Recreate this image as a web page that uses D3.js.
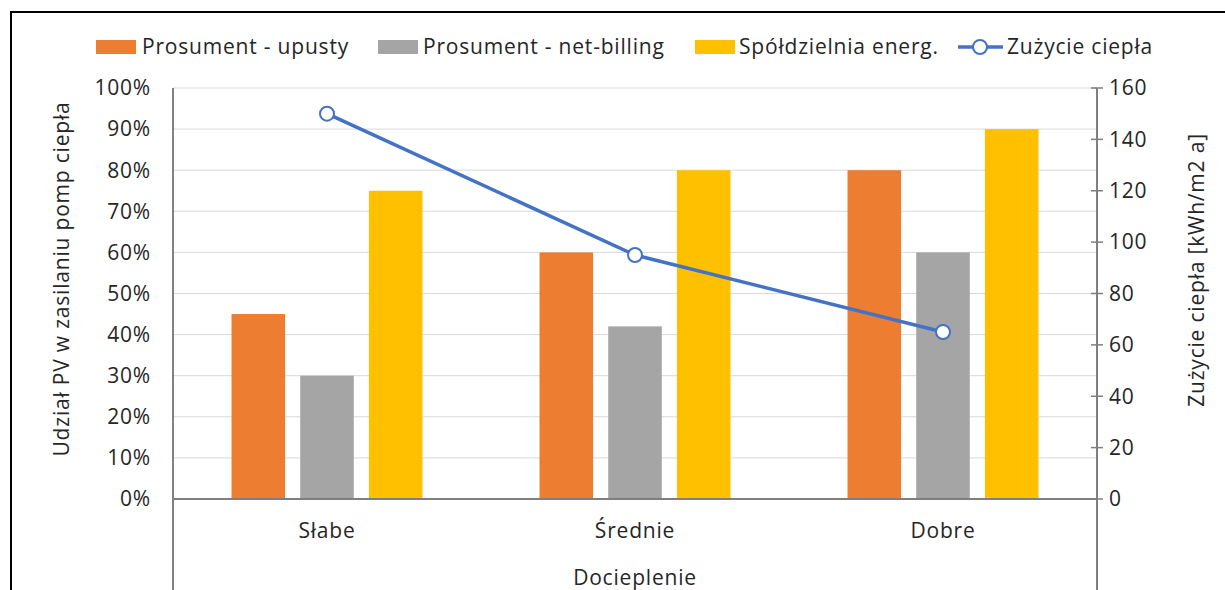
<!DOCTYPE html>
<html>
<head>
<meta charset="utf-8">
<script src="https://cdn.jsdelivr.net/npm/d3@7"></script>
<style>
  body { margin: 0; background: #fff; }
  svg { font-family: 'Open Sans', sans-serif; }
  svg text { font-size: 21px; letter-spacing: 0.8px; fill: #262626; }
</style>
</head>
<body>
<svg width="1225" height="590"></svg>
<script>
// Data
let categories = ['Słabe', 'Średnie', 'Dobre'];
let seriesNames = ['Prosument - upusty', 'Prosument - net-billing', 'Spółdzielnia energ.'];
let upusty = [0.45, 0.60, 0.80];
let netBilling = [0.30, 0.42, 0.60];
let spoldzielnia = [0.75, 0.80, 0.90];
let heatUse = [150, 95, 65];
let lineName = 'Zużycie ciepła';
let leftTicks = [0, 0.1, 0.2, 0.3, 0.4, 0.5, 0.6, 0.7, 0.8, 0.9, 1];
let rightTicks = [0, 20, 40, 60, 80, 100, 120, 140, 160];
let colors = ['#ED7D31', '#A5A5A5', '#FFC000'];
let lineColor = '#4472C4';

let svg = d3.select('svg');

// Plot area
let plotLeft = 173, plotRight = 1097, plotTop = 88, plotBottom = 499;

// Outer frame (extends past the window on right / bottom)
svg.append('rect')
    .attr('x', 11).attr('y', 12)
    .attr('width', 1300).attr('height', 700)
    .attr('fill', 'none')
    .attr('stroke', '#000')
    .attr('stroke-width', 2);

let x0 = d3.scaleBand().domain(categories).range([plotLeft, plotRight]);
let x1 = d3.scaleBand().domain(d3.range(3)).range([0, 191]).paddingInner(0.22);
let yL = d3.scaleLinear().domain([0, 1]).range([plotBottom, plotTop]);
let yR = d3.scaleLinear().domain([0, 160]).range([plotBottom, plotTop]);
let cx = (d, i) => x0(categories[i]) + x0.bandwidth() / 2;

// Gridlines
svg.append('g')
  .selectAll('line')
  .data(leftTicks.slice(1))
  .enter().append('line')
    .attr('x1', plotLeft).attr('x2', plotRight)
    .attr('y1', d => yL(d)).attr('y2', d => yL(d))
    .attr('stroke', '#d9d9d9')
    .attr('stroke-width', 1);

// Bars
let series = [upusty, netBilling, spoldzielnia];
series.forEach((vals, s) => {
  svg.append('g')
    .selectAll('rect')
    .data(vals)
    .enter().append('rect')
      .attr('x', (d, i) => cx(d, i) - 95.5 + x1(s))
      .attr('y', d => yL(d))
      .attr('width', x1.bandwidth())
      .attr('height', d => plotBottom - yL(d))
      .attr('fill', colors[s]);
});

// Axis lines
svg.append('line')
    .attr('x1', plotLeft).attr('x2', plotLeft).attr('y1', plotTop).attr('y2', 590)
    .attr('stroke', '#595959').attr('stroke-width', 1.5);
svg.append('line')
    .attr('x1', plotRight).attr('x2', plotRight).attr('y1', plotTop).attr('y2', 590)
    .attr('stroke', '#7f7f7f').attr('stroke-width', 2);
svg.append('line')
    .attr('x1', plotLeft).attr('x2', plotRight).attr('y1', plotBottom).attr('y2', plotBottom)
    .attr('stroke', '#7f7f7f').attr('stroke-width', 2);

// Left axis labels
svg.append('g')
  .selectAll('text')
  .data(leftTicks)
  .enter().append('text')
    .attr('x', 151)
    .attr('y', d => yL(d))
    .attr('dy', '0.35em')
    .attr('text-anchor', 'end')
    .text(d3.format('.0%'));

// Right axis ticks + labels
let rAxis = svg.append('g');
rAxis.selectAll('line')
  .data(rightTicks)
  .enter().append('line')
    .attr('x1', plotRight - 6).attr('x2', plotRight + 6)
    .attr('y1', d => yR(d)).attr('y2', d => yR(d))
    .attr('stroke', '#7f7f7f').attr('stroke-width', 1.5);
rAxis.selectAll('text')
  .data(rightTicks)
  .enter().append('text')
    .attr('x', 1109)
    .attr('y', d => yR(d))
    .attr('dy', '0.35em')
    .text(d => d);

// Category labels
svg.append('g')
  .selectAll('text')
  .data(categories)
  .enter().append('text')
    .attr('x', (d, i) => cx(d, i))
    .attr('y', 531)
    .attr('dy', '0.35em')
    .attr('text-anchor', 'middle')
    .text(d => d);

// Axis titles
svg.append('text')
    .attr('x', 635).attr('y', 578)
    .attr('dy', '0.35em')
    .attr('text-anchor', 'middle')
    .text('Docieplenie');
svg.append('text')
    .attr('transform', 'translate(62,279) rotate(-90)')
    .attr('dy', '0.35em')
    .attr('text-anchor', 'middle')
    .text('Udział PV w zasilaniu pomp ciepła');
svg.append('text')
    .attr('transform', 'translate(1197,270) rotate(-90)')
    .attr('dy', '0.35em')
    .attr('text-anchor', 'middle')
    .text('Zużycie ciepła [kWh/m2 a]');

// Line series
let line = d3.line()
  .x((d, i) => cx(d, i))
  .y(d => yR(d));
svg.append('path')
    .datum(heatUse)
    .attr('d', line)
    .attr('fill', 'none')
    .attr('stroke', lineColor)
    .attr('stroke-width', 3.5);
svg.append('g')
  .selectAll('circle')
  .data(heatUse)
  .enter().append('circle')
    .attr('cx', (d, i) => cx(d, i))
    .attr('cy', d => yR(d))
    .attr('r', 7)
    .attr('fill', '#fff')
    .attr('stroke', lineColor)
    .attr('stroke-width', 2);

// Legend
let legendItems = [
  { name: seriesNames[0], color: colors[0], x: 96, tx: 142 },
  { name: seriesNames[1], color: colors[1], x: 378, tx: 423 },
  { name: seriesNames[2], color: colors[2], x: 695, tx: 739 }
];
let legend = svg.append('g');
legendItems.forEach(d => {
  legend.append('rect')
      .attr('x', d.x).attr('y', 40)
      .attr('width', 40).attr('height', 14)
      .attr('fill', d.color);
  legend.append('text')
      .attr('x', d.tx).attr('y', 47)
      .attr('dy', '0.35em')
      .text(d.name);
});
legend.append('line')
    .attr('x1', 958).attr('x2', 1003).attr('y1', 47).attr('y2', 47)
    .attr('stroke', lineColor).attr('stroke-width', 3.5);
legend.append('circle')
    .attr('cx', 980).attr('cy', 47).attr('r', 7)
    .attr('fill', '#fff').attr('stroke', lineColor).attr('stroke-width', 2);
legend.append('text')
    .attr('x', 1007).attr('y', 47)
    .attr('dy', '0.35em')
    .text(lineName);
</script>
</body>
</html>
